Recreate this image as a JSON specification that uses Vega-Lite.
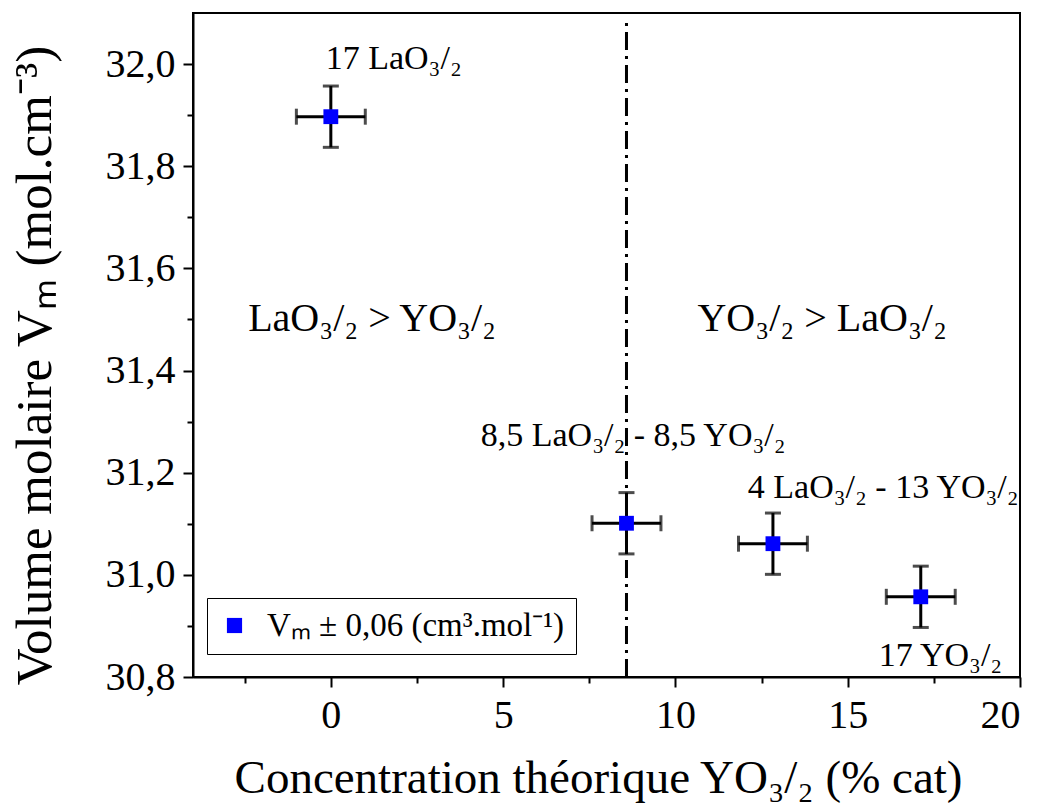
{
  "$schema": "https://vega.github.io/schema/vega-lite/v6.json",
  "autosize": {"type": "none"},
  "width": 827,
  "height": 664,
  "padding": {"left": 193, "top": 13, "right": 22, "bottom": 128},
  "background": "white",
  "config": {
    "view": {"stroke": "black", "strokeWidth": 2},
    "font": "Liberation Serif",
    "axis": {
      "domainColor": "black", "domainWidth": 2, "tickColor": "black", "tickWidth": 2,
      "labelColor": "black", "titleColor": "black", "labelFont": "Liberation Serif", "titleFont": "Liberation Serif",
      "titleFontWeight": "normal", "grid": false
    }
  },
  "datasets": {
    "pts": [
      {"x": 0, "y": 31.897, "xlo": -1, "xhi": 1, "ylo": 31.837, "yhi": 31.957, "series": "Vₘ ± 0,06 (cm³.mol⁻¹)"},
      {"x": 8.58, "y": 31.101, "xlo": 7.58, "xhi": 9.58, "ylo": 31.041, "yhi": 31.161, "series": "Vₘ ± 0,06 (cm³.mol⁻¹)"},
      {"x": 12.83, "y": 31.061, "xlo": 11.83, "xhi": 13.83, "ylo": 31.001, "yhi": 31.121, "series": "Vₘ ± 0,06 (cm³.mol⁻¹)"},
      {"x": 17.12, "y": 30.957, "xlo": 16.12, "xhi": 18.12, "ylo": 30.897, "yhi": 31.017, "series": "Vₘ ± 0,06 (cm³.mol⁻¹)"}
    ],
    "small": [
      {"x": -0.15, "y": 31.99, "label": "17 LaO₃/₂"},
      {"x": 4.35, "y": 31.253, "label": "8,5 LaO₃/₂ - 8,5 YO₃/₂"},
      {"x": 12.1, "y": 31.151, "label": "4 LaO₃/₂ - 13 YO₃/₂"},
      {"x": 15.9, "y": 30.822, "label": "17 YO₃/₂"}
    ],
    "big": [
      {"x": -2.4, "y": 31.478, "label": "LaO₃/₂ > YO₃/₂"},
      {"x": 10.64, "y": 31.478, "label": "YO₃/₂ > LaO₃/₂"}
    ],
    "vline": [{"x": 8.58, "y0": 30.8, "y1": 32.085}]
  },
  "layer": [
    {
      "data": {"name": "vline"},
      "mark": {"type": "rule", "color": "black", "strokeWidth": 3, "strokeDash": [18, 6, 3, 6]},
      "encoding": {
        "x": {"field": "x", "type": "quantitative", "scale": {"domain": [-4, 20], "nice": false, "zero": false},
          "axis": {
            "values": [-2.5, 0, 2.5, 5, 7.5, 10, 12.5, 15, 17.5, 20],
            "labelExpr": "datum.value % 5 == 0 ? format(datum.value, 'd') : ''",
            "tickSize": {"condition": {"test": "datum.value % 5 == 0", "value": 10}, "value": 6},
            "labelFontSize": 40, "labelPadding": 8,
            "title": "Concentration théorique YO₃/₂ (% cat)", "titleFontSize": 47,
            "titleBaseline": "alphabetic", "titleY": 115, "titleX": 405
          }},
        "y": {"field": "y0", "type": "quantitative", "scale": {"domain": [30.8, 32.1], "nice": false, "zero": false},
          "axis": {
            "values": [30.8, 30.9, 31.0, 31.1, 31.2, 31.3, 31.4, 31.5, 31.6, 31.7, 31.8, 31.9, 32.0],
            "labelExpr": "round(datum.value * 10) % 2 == 0 ? replace(format(datum.value, '.1f'), '.', ',') : ''",
            "tickSize": {"condition": {"test": "round(datum.value * 10) % 2 == 0", "value": 10}, "value": 6},
            "labelFontSize": 40, "labelPadding": 8,
            "title": "Volume molaire Vₘ (mol.cm⁻³)", "titleFontSize": 51,
            "titleBaseline": "alphabetic", "titleX": -143, "titleY": 352
          }},
        "y2": {"field": "y1"}
      }
    },
    {
      "data": {"name": "pts"},
      "mark": {"type": "rule", "color": "black", "strokeWidth": 3},
      "encoding": {
        "x": {"field": "x", "type": "quantitative"},
        "y": {"field": "ylo", "type": "quantitative"},
        "y2": {"field": "yhi"}
      }
    },
    {
      "data": {"name": "pts"},
      "mark": {"type": "rule", "color": "black", "strokeWidth": 3},
      "encoding": {
        "x": {"field": "xlo", "type": "quantitative"},
        "x2": {"field": "xhi"},
        "y": {"field": "y", "type": "quantitative"}
      }
    },
    {
      "data": {"name": "pts"},
      "mark": {"type": "tick", "color": "black", "orient": "horizontal", "size": 16, "thickness": 3},
      "encoding": {"x": {"field": "x", "type": "quantitative"}, "y": {"field": "ylo", "type": "quantitative"}}
    },
    {
      "data": {"name": "pts"},
      "mark": {"type": "tick", "color": "black", "orient": "horizontal", "size": 16, "thickness": 3},
      "encoding": {"x": {"field": "x", "type": "quantitative"}, "y": {"field": "yhi", "type": "quantitative"}}
    },
    {
      "data": {"name": "pts"},
      "mark": {"type": "tick", "color": "black", "orient": "vertical", "size": 16, "thickness": 3},
      "encoding": {"x": {"field": "xlo", "type": "quantitative"}, "y": {"field": "y", "type": "quantitative"}}
    },
    {
      "data": {"name": "pts"},
      "mark": {"type": "tick", "color": "black", "orient": "vertical", "size": 16, "thickness": 3},
      "encoding": {"x": {"field": "xhi", "type": "quantitative"}, "y": {"field": "y", "type": "quantitative"}}
    },
    {
      "data": {"name": "pts"},
      "mark": {"type": "point", "shape": "square", "filled": true, "size": 220, "opacity": 1},
      "encoding": {
        "x": {"field": "x", "type": "quantitative"},
        "y": {"field": "y", "type": "quantitative"},
        "color": {"field": "series", "type": "nominal", "scale": {"range": ["#0000ff"]},
          "legend": {
            "title": null, "orient": "none", "legendX": 14, "legendY": 585,
            "strokeColor": "black", "fillColor": "white", "padding": 11,
            "symbolType": "square", "symbolSize": 230, "symbolStrokeWidth": 0,
            "labelFont": "Liberation Serif", "labelFontSize": 33, "labelColor": "black", "labelLimit": 600, "labelOffset": 16
          }}
      }
    },
    {
      "data": {"name": "small"},
      "mark": {"type": "text", "align": "left", "baseline": "alphabetic", "fontSize": 34, "color": "black", "font": "Liberation Serif"},
      "encoding": {"x": {"field": "x", "type": "quantitative"}, "y": {"field": "y", "type": "quantitative"}, "text": {"field": "label"}}
    },
    {
      "data": {"name": "big"},
      "mark": {"type": "text", "align": "left", "baseline": "alphabetic", "fontSize": 40, "color": "black", "font": "Liberation Serif"},
      "encoding": {"x": {"field": "x", "type": "quantitative"}, "y": {"field": "y", "type": "quantitative"}, "text": {"field": "label"}}
    }
  ]
}
